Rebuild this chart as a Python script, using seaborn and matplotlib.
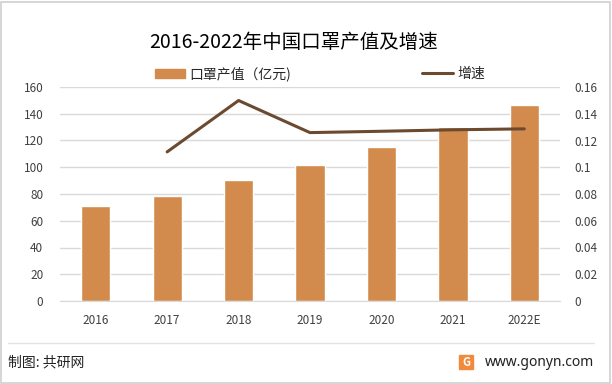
import numpy as np
import pandas as pd
import seaborn as sns
import matplotlib.pyplot as plt
from matplotlib.patches import Patch, Rectangle
from matplotlib.lines import Line2D
from matplotlib.ticker import FuncFormatter

# data
years = ["2016", "2017", "2018", "2019", "2020", "2021", "2022E"]
output_value = [71.2, 78.7, 90.7, 101.9, 115.4, 130.4, 146.9]
growth = [np.nan, 0.1115, 0.1499, 0.1259, 0.1269, 0.128, 0.1287]

title = "2016-2022年中国口罩产值及增速"
bar_label = "口罩产值（亿元)"
line_label = "增速"

bar_color = "#D38B4D"
line_color = "#6B4A30"
grid_color = "#D9D9D9"

sns.set_style("white")
plt.rcParams['font.family'] = ['Noto Sans CJK SC', 'DejaVu Sans']

df = pd.DataFrame({"year": years, "value": output_value,
                   "pos": range(len(years)), "growth": growth})

fig = plt.figure(figsize=(6.12, 3.84), dpi=100)
ax = fig.add_axes([60 / 612, 1 - 301 / 384, 500 / 612, 214 / 384])

sns.barplot(data=df, x="year", y="value", color=bar_color, width=0.41,
            saturation=1, ax=ax)
ax.set_ylim(0, 160)
ax.set_yticks(np.arange(0, 161, 20))
ax.set_xlabel("")
ax.set_ylabel("")
ax.yaxis.grid(True, color=grid_color, linewidth=1)
ax.set_axisbelow(True)
for s in ["top", "left", "right"]:
    ax.spines[s].set_visible(False)
ax.spines["bottom"].set_color(grid_color)
ax.tick_params(axis="both", length=0, labelsize=8.5, labelcolor="#404040")
ax.tick_params(axis="x", pad=9)
ax.tick_params(axis="y", pad=12)

ax2 = ax.twinx()
sns.lineplot(data=df, x="pos", y="growth", color=line_color, linewidth=2.2,
             ax=ax2)
ax2.set_ylim(0, 0.16)
ax2.set_yticks(np.arange(0, 0.161, 0.02))
ax2.yaxis.set_major_formatter(FuncFormatter(lambda v, p: "{:g}".format(round(v, 2))))
ax2.set_ylabel("")
ax2.set_xlabel("")
for s in ["top", "left", "right", "bottom"]:
    ax2.spines[s].set_visible(False)
ax2.tick_params(axis="y", length=0, labelsize=8.5, labelcolor="#404040", pad=10)
ax.set_xlim(-0.5, len(years) - 0.5)

fig.text(0.48, 1 - 42 / 384, title, ha="center", va="center", fontsize=14,
         color="#000000")

fig.legend(handles=[Patch(color=bar_color, label=bar_label)],
           loc="center left", bbox_to_anchor=(142 / 612, 1 - 74 / 384),
           frameon=False, fontsize=10, handlelength=2.2, handleheight=0.7,
           handletextpad=0.3)
fig.legend(handles=[Line2D([], [], color=line_color, linewidth=2.2, label=line_label)],
           loc="center left", bbox_to_anchor=(410 / 612, 1 - 74 / 384),
           frameon=False, fontsize=10, handlelength=2.2, handletextpad=0.3)

# footer
fig.add_artist(Line2D([8 / 612, 594 / 612], [1 - 343 / 384] * 2,
                      color="#E3E3E3", linewidth=1))
fig.text(8 / 612, 1 - 362 / 384, "制图: 共研网", ha="left", va="center",
         fontsize=10, color="#222222")
fig.text(594 / 612, 1 - 362 / 384, "www.gonyn.com", ha="right", va="center",
         fontsize=10, color="#222222", family="Noto Sans")
fig.add_artist(Rectangle((459 / 612, 1 - 369 / 384), 14 / 612, 14 / 384,
                         color="#F08A3C", transform=fig.transFigure))
fig.text(466 / 612, 1 - 362 / 384, "G", ha="center", va="center",
         fontsize=8, color="white", fontweight="bold")

# outer frame
fig.add_artist(Rectangle((1 / 612, 1 / 384), 609 / 612, 381 / 384, fill=False,
                         edgecolor="#D0D0D0", linewidth=1.2,
                         transform=fig.transFigure))

fig.savefig("out.png", dpi=100)
